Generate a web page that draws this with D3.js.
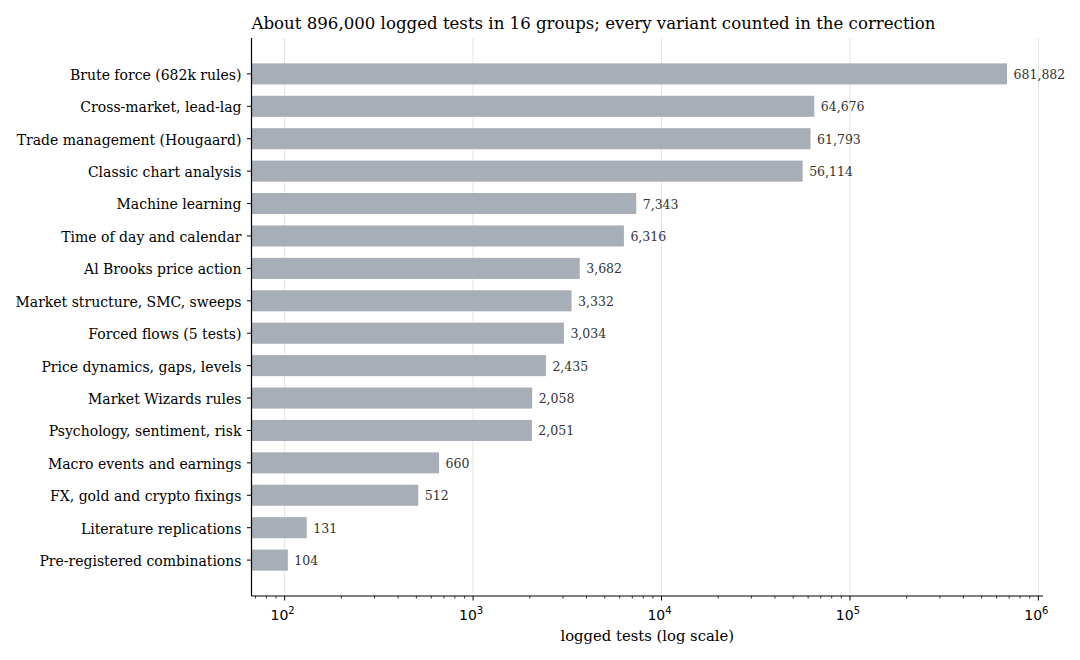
<!DOCTYPE html>
<html>
<head>
<meta charset="utf-8">
<script src="https://cdn.jsdelivr.net/npm/d3@7"></script>
<style>
  body { margin: 0; background: #fff; }
</style>
</head>
<body>
<svg id="chart" width="1080" height="660"></svg>
<script>
// data, top to bottom
var groups = [
  "Brute force (682k rules)", "Cross-market, lead-lag", "Trade management (Hougaard)",
  "Classic chart analysis", "Machine learning", "Time of day and calendar",
  "Al Brooks price action", "Market structure, SMC, sweeps", "Forced flows (5 tests)",
  "Price dynamics, gaps, levels", "Market Wizards rules", "Psychology, sentiment, risk",
  "Macro events and earnings", "FX, gold and crypto fixings", "Literature replications",
  "Pre-registered combinations"
];
var tests = [681882, 64676, 61793, 56114, 7343, 6316, 3682, 3332, 3034, 2435, 2058, 2051, 660, 512, 131, 104];
var majorTicks = [1e2, 1e3, 1e4, 1e5, 1e6];
var tickExp = ["2", "3", "4", "5", "6"];

var title = "About 896,000 logged tests in 16 groups; every variant counted in the correction";
var xLabel = "logged tests (log scale)";

/******************************************************************************/
// layout

var serif = "'DejaVu Serif', serif";
var axL = 251.5, axR = 1043, axT = 38, axB = 596;
var barColor = "#a8aeb7";
var svg = d3.select("#chart");

var x = d3.scaleLog().domain([66.7, 1.058e6]).range([axL, axR]);

// matplotlib style: bar height 0.65, 5% margin
var n = groups.length;
var lo = -0.325, hi = n - 1 + 0.325, pad = (hi - lo) * 0.05;
var y = d3.scaleLinear().domain([lo - pad, hi + pad]).range([axT, axB]);
var bh = y(0.65) - y(0);

// grid at major ticks
svg.append("g").selectAll("line").data(majorTicks).join("line")
  .attr("x1", function(d){ return x(d); }).attr("x2", function(d){ return x(d); })
  .attr("y1", axT).attr("y2", axB)
  .attr("stroke", "#e5e5e5").attr("stroke-width", 1);

// bars
svg.append("g").selectAll("rect").data(tests).join("rect")
  .attr("x", axL)
  .attr("y", function(d, i){ return y(i) - bh / 2; })
  .attr("width", function(d){ return x(d) - axL; })
  .attr("height", bh)
  .attr("fill", barColor);

// value labels
svg.append("g").selectAll("text").data(tests).join("text")
  .attr("x", function(d){ return x(d) + 6.5; })
  .attr("y", function(d, i){ return y(i); })
  .attr("dy", "0.4em")
  .attr("font-family", serif)
  .attr("font-size", 12.5)
  .attr("fill", "#333")
  .text(function(d){ return d3.format(",")(d); });

// y axis
var ya = svg.append("g");
ya.append("line").attr("x1", axL).attr("x2", axL).attr("y1", axT).attr("y2", axB)
  .attr("stroke", "#000").attr("stroke-width", 1.2);
ya.selectAll(".tk").data(groups).join("line")
  .attr("x1", axL - 4.5).attr("x2", axL)
  .attr("y1", function(d, i){ return y(i); }).attr("y2", function(d, i){ return y(i); })
  .attr("stroke", "#000").attr("stroke-width", 1);
ya.selectAll("text").data(groups).join("text")
  .attr("x", axL - 10).attr("y", function(d, i){ return y(i); })
  .attr("dy", "0.42em").attr("text-anchor", "end")
  .attr("font-family", serif)
  .attr("font-size", 14).attr("fill", "#000")
  .text(function(d){ return d; });

// x axis
var xa = svg.append("g");
xa.append("line").attr("x1", axL).attr("x2", axR).attr("y1", axB).attr("y2", axB)
  .attr("stroke", "#000").attr("stroke-width", 1.2);
var minor = x.ticks().filter(function(d){ return majorTicks.indexOf(d) < 0; });
xa.selectAll(".mn").data(minor).join("line")
  .attr("x1", function(d){ return x(d); }).attr("x2", function(d){ return x(d); })
  .attr("y1", axB).attr("y2", axB + 2.5)
  .attr("stroke", "#000").attr("stroke-width", 0.8);
xa.selectAll(".mj").data(majorTicks).join("line")
  .attr("x1", function(d){ return x(d); }).attr("x2", function(d){ return x(d); })
  .attr("y1", axB).attr("y2", axB + 4.5)
  .attr("stroke", "#000").attr("stroke-width", 1);
var tl = xa.selectAll(".lb").data(majorTicks).join("text")
  .attr("x", function(d){ return x(d) - 2; }).attr("y", axB + 24)
  .attr("text-anchor", "middle")
  .attr("font-family", "'DejaVu Sans', sans-serif")
  .attr("font-size", 14).attr("fill", "#000");
tl.append("tspan").text("10");
tl.append("tspan").attr("dy", -6).attr("font-size", 10).text(function(d, i){ return tickExp[i]; });

svg.append("text").attr("x", (axL + axR) / 2).attr("y", 641)
  .attr("text-anchor", "middle").attr("font-family", serif)
  .attr("font-size", 14.8).text(xLabel);

svg.append("text").attr("x", axL).attr("y", 29)
  .attr("font-family", serif).attr("font-size", 16.6).text(title);
</script>
</body>
</html>
